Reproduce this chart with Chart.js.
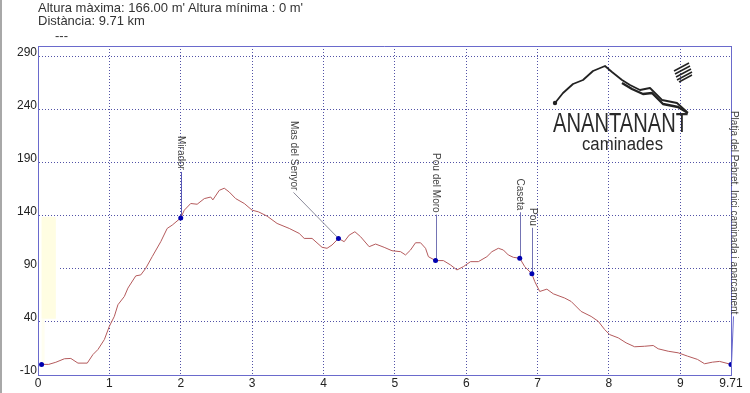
<!DOCTYPE html>
<html><head><meta charset="utf-8">
<script src="https://cdn.jsdelivr.net/npm/chart.js@4.4.1/dist/chart.umd.min.js"></script>
<style>
html,body{margin:0;padding:0;background:#fff;}
#wrap{position:relative;width:750px;height:393px;overflow:hidden;background:#fff;}
canvas{position:absolute;left:0;top:0;}
.t{position:absolute;font-family:"Liberation Sans",Arial,sans-serif;font-size:13px;line-height:15px;color:#333;white-space:nowrap;}
#edge{position:absolute;left:0;top:0;width:2px;height:393px;background:#a8a8a8;}
#logo{position:absolute;left:0;top:0;pointer-events:none;}
</style></head><body>
<div id="wrap">
<canvas id="c" width="750" height="393"></canvas>
<div class="t" style="left:38px;top:0px">Altura màxima: 166.00 m' Altura mínima : 0 m'</div>
<div class="t" style="left:38px;top:13px">Distància: 9.71 km</div>
<div class="t" style="left:55px;top:28px">---</div>
<svg id="logo" width="750" height="393" viewBox="0 0 750 393">
  <polyline points="555,103 563,93 573,84 583,80 593,71 605,66 612,72 622,80 630,85 640,90 650,88 662,100 677,103 687,112" fill="none" stroke="#222" stroke-width="1.8" stroke-linejoin="round"/>
  <polyline points="622,83 632,89 643,94 652,93 663,104 678,107 688,113" fill="none" stroke="#222" stroke-width="2.4" stroke-linejoin="round"/>
  <circle cx="555" cy="103" r="2.2" fill="#222"/>
  <g stroke="#222" stroke-width="1.5">
    <line x1="674" y1="71" x2="689" y2="63"/>
    <line x1="675" y1="74" x2="690" y2="66"/>
    <line x1="676" y1="77" x2="691" y2="69"/>
    <line x1="677" y1="80" x2="692" y2="72"/>
    <line x1="679" y1="82" x2="692" y2="75"/>
  </g>
  <text x="553" y="132" font-family="Liberation Sans, Arial, sans-serif" font-size="27" fill="#2a2a2a" textLength="135" lengthAdjust="spacingAndGlyphs">ANANTANANT</text>
  <text x="582" y="150" font-family="Liberation Sans, Arial, sans-serif" font-size="18" fill="#2a2a2a" textLength="81" lengthAdjust="spacingAndGlyphs">caminades</text>
</svg>
<div id="edge"></div>
</div>
<script>
// ---- data ----
const distanceKm = [0.05,0.15,0.25,0.37,0.46,0.56,0.69,0.77,0.84,0.93,1.0,1.07,1.12,1.21,1.26,1.37,1.44,1.51,1.60,1.72,1.81,1.88,2.0,2.05,2.14,2.23,2.33,2.42,2.45,2.54,2.61,2.68,2.77,2.89,3.0,3.09,3.21,3.35,3.52,3.66,3.73,3.84,3.98,4.05,4.12,4.21,4.29,4.36,4.44,4.52,4.64,4.73,4.85,4.96,5.08,5.15,5.22,5.29,5.36,5.43,5.47,5.57,5.68,5.78,5.87,5.96,6.06,6.17,6.29,6.36,6.45,6.52,6.59,6.66,6.75,6.82,6.92,6.96,7.03,7.13,7.22,7.38,7.47,7.61,7.75,7.85,7.94,8.01,8.13,8.24,8.36,8.50,8.62,8.69,8.83,8.97,9.10,9.24,9.34,9.45,9.55,9.71];
const altitudeM = [0,0,2,5.3,5.6,1.2,1.2,9.3,14,23.4,35.9,45.3,56.2,64,71.9,83.4,84.3,90.6,101.5,115.6,128.1,131.2,138,145.3,151.6,150.9,156.2,157.7,155,164,166,162.4,156.2,151.6,145.3,143.7,139.7,132.8,128.1,123.4,118.7,118.7,110.3,109.4,112.5,118.7,115.6,121.8,125,120.3,110.9,113.4,110.3,107.1,106.2,103.1,107.8,114.6,114.6,109.4,101.5,97.8,97.8,93.7,89,92.1,96.8,96.8,101.5,106.2,109.4,107.8,103.1,100.9,100,92.1,85.3,78.1,68.7,70.9,66.5,62.5,59.3,49.9,45.2,40.6,32.8,28.1,25,20.3,16.6,17.1,17.8,14.7,12.4,10.9,7.8,4.7,0.6,2.1,2.8,0];
const waypointKm = [0.05,2.0,4.21,5.57,6.75,6.92,9.71];
const waypointAlt = [0,138,118.7,97.8,100,85.3,0];
const waypointNames = ['', 'Mirador', 'Mas del Senyor', 'Pou del Moro', 'Caseta', 'Pou', 'Platja del Pebret. Inici caminada i aparcament'];
const xTickValues = [0,1,2,3,4,5,6,7,8,9,9.71];
const yTickValues = [-10,40,90,140,190,240,290];
const highlightBox = {x0:0.05, x1:0.25, y0:43, y1:139};

// ---- style (not data) ----
const labelLiftPx = [0,46,46,46,46,46,48];
const labelShiftPx = [0,0,-45,0,0,0,2];
const leaderColors = ['#7474b4','#5a5ab8','#8a8a9a','#7474b4','#7474b4','#7474b4','#6a6acc'];
const FONT = '"Liberation Sans", Arial, sans-serif';

const profile = distanceKm.map((x,i)=>({x, y: altitudeM[i]}));
const wps = waypointKm.map((x,i)=>({x, y: waypointAlt[i]}));

const decor = {
  id:'decor',
  beforeDatasetsDraw(chart){
    const {ctx, scales:{x,y}} = chart;
    ctx.save();
    const bx0 = x.getPixelForValue(highlightBox.x0), bx1 = x.getPixelForValue(highlightBox.x1);
    const by0 = y.getPixelForValue(highlightBox.y1), by1 = y.getPixelForValue(highlightBox.y0);
    ctx.fillStyle = '#ffffff';
    ctx.fillRect(chart.chartArea.left+1, by0, bx1-chart.chartArea.left+2, by1-by0);
    ctx.fillStyle = '#fffde2';
    ctx.fillRect(bx0, by0, bx1-bx0, by1-by0);
    ctx.fillStyle = '#fffef0';
    ctx.fillRect(bx0, by1, 3, y.getPixelForValue(0)-by1);
    ctx.lineWidth = 1;
    wps.forEach((p,i)=>{
      if(!waypointNames[i]) return;
      const px = x.getPixelForValue(p.x), py = y.getPixelForValue(p.y);
      ctx.strokeStyle = leaderColors[i];
      ctx.beginPath();
      ctx.moveTo(Math.round(px)+0.5, py);
      ctx.lineTo(Math.round(px+labelShiftPx[i])+0.5, py-labelLiftPx[i]);
      ctx.stroke();
    });
    ctx.restore();
  },
  afterDraw(chart){
    const {ctx, scales:{x,y}, chartArea:a} = chart;
    ctx.save();
    ctx.strokeStyle = '#6a6acc';
    ctx.lineWidth = 1;
    ctx.beginPath();
    ctx.moveTo(a.left, Math.round(a.top)+0.5);
    ctx.lineTo(Math.round(a.right)+0.5, Math.round(a.top)+0.5);
    ctx.lineTo(Math.round(a.right)+0.5, a.bottom);
    ctx.stroke();
    ctx.fillStyle = '#444';
    ctx.font = '10px ' + FONT;
    wps.forEach((p,i)=>{
      if(!waypointNames[i]) return;
      const px = x.getPixelForValue(p.x)+labelShiftPx[i], py = y.getPixelForValue(p.y)-labelLiftPx[i];
      ctx.save();
      ctx.translate(px+0.5, py-2);
      ctx.rotate(Math.PI/2);
      ctx.textAlign='right';
      ctx.textBaseline='middle';
      ctx.fillText(waypointNames[i],0,0);
      ctx.restore();
    });
    ctx.restore();
  }
};

new Chart(document.getElementById('c'), {
  type:'scatter',
  data:{datasets:[
    {data: wps, showLine:false, pointRadius:2.5, pointHoverRadius:2.5, pointBackgroundColor:'#0000b0', pointBorderWidth:0, order:0},
    {data: profile, showLine:true, borderColor:'#b45a5c', borderWidth:1, pointRadius:0, tension:0, fill:false, order:1}
  ]},
  options:{
    responsive:false, animation:false, devicePixelRatio:1,
    layout:{padding:{top:46,right:19,left:0,bottom:0}},
    plugins:{legend:{display:false}, tooltip:{enabled:false}, title:{display:false}},
    scales:{
      x:{type:'linear', min:0, max:9.71,
        afterBuildTicks(s){ s.ticks = xTickValues.map(v=>({value:v})); },
        afterFit(s){ s.height = 18; },
        ticks:{autoSkip:false, maxRotation:0, padding:1, color:'#222', font:{family:FONT, size:12},
          callback:(v)=> String(v)},
        grid:{color:'#5252a6', lineWidth:1, drawTicks:false, tickLength:0},
        border:{display:true, color:'#6a6acc', width:1, dash:[1,2]}
      },
      y:{type:'linear', min:-10, max:300,
        afterBuildTicks(s){ s.ticks = yTickValues.map(v=>({value:v})); },
        afterFit(s){ s.width = 38; },
        ticks:{autoSkip:false, padding:1, color:'#222', font:{family:FONT, size:12, lineHeight:0.7},
          callback:(v)=> [String(v), '']},
        grid:{color:'#5252a6', lineWidth:1, drawTicks:false, tickLength:0},
        border:{display:true, color:'#6a6acc', width:1, dash:[1,2]}
      }
    }
  },
  plugins:[decor]
});
</script>
</body></html>
